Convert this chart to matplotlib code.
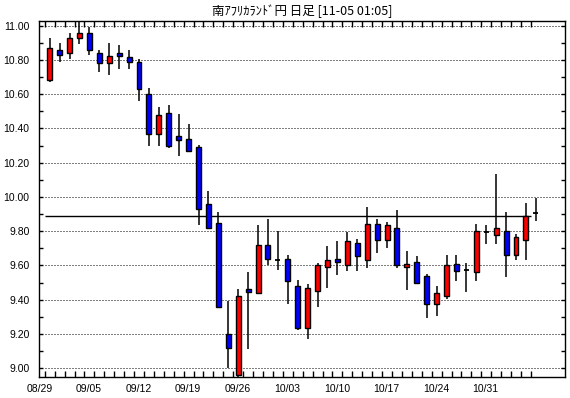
import numpy as np
import matplotlib
matplotlib.use("Agg")
import matplotlib.pyplot as plt
from matplotlib.patches import Rectangle

# daily candles, ZAR/JPY
opens = [10.68, 10.86, 10.84, 10.93, 10.96, 10.84, 10.78, 10.84, 10.815, 10.79,
         10.60, 10.37, 10.49, 10.354, 10.34, 10.29, 9.96, 9.85, 9.20, 8.96,
         9.463, 9.44, 9.72, 9.632, 9.64, 9.48, 9.235, 9.45, 9.59, 9.64,
         9.60, 9.73, 9.63, 9.84, 9.75, 9.82, 9.59, 9.62, 9.54, 9.375,
         9.42, 9.61, 9.571, 9.56, 9.796, 9.78, 9.80, 9.66, 9.75, 9.905]
highs = [10.93, 10.90, 10.955, 11.04, 10.994, 10.86, 10.90, 10.885, 10.858, 10.804,
         10.634, 10.525, 10.537, 10.485, 10.426, 10.303, 10.035, 9.91, 9.393, 9.463,
         9.564, 9.837, 9.872, 9.801, 9.663, 9.517, 9.492, 9.612, 9.714, 9.743,
         9.796, 9.753, 9.941, 9.872, 9.852, 9.926, 9.684, 9.657, 9.552, 9.478,
         9.661, 9.661, 9.612, 9.84, 9.834, 10.132, 9.911, 9.783, 9.963, 9.994]
lows = [10.673, 10.79, 10.803, 10.891, 10.829, 10.731, 10.712, 10.749, 10.749, 10.562,
        10.30, 10.30, 10.288, 10.241, 10.26, 9.837, 9.823, 9.36, 8.999, 8.95,
        9.111, 9.443, 9.604, 9.573, 9.375, 9.226, 9.173, 9.36, 9.47, 9.545,
        9.57, 9.57, 9.587, 9.67, 9.701, 9.587, 9.458, 9.49, 9.291, 9.307,
        9.406, 9.512, 9.446, 9.512, 9.728, 9.728, 9.53, 9.629, 9.629, 9.862]
closes = [10.87, 10.83, 10.93, 10.96, 10.86, 10.78, 10.82, 10.82, 10.785, 10.63,
          10.37, 10.48, 10.30, 10.33, 10.27, 9.93, 9.82, 9.36, 9.12, 9.42,
          9.447, 9.72, 9.64, 9.632, 9.51, 9.235, 9.47, 9.60, 9.63, 9.62,
          9.74, 9.655, 9.84, 9.75, 9.835, 9.60, 9.61, 9.50, 9.375, 9.44,
          9.60, 9.57, 9.571, 9.80, 9.796, 9.82, 9.66, 9.765, 9.89, 9.908]
date_labels = ["08/29", "09/05", "09/12", "09/19", "09/26",
               "10/03", "10/10", "10/17", "10/24", "10/31"]
last_price = 9.887
title = "南ｱﾌﾘｶﾗﾝﾄﾞ円 日足 [11-05 01:05]"

n = len(opens)
xs = np.arange(n)

fig = plt.figure(figsize=(5.70, 3.98), dpi=100)
ax = fig.add_axes([39.3 / 570, 20.7 / 398, 525.7 / 570, 356.6 / 398])
ax.set_xlim(-0.946, 51.94)
ax.set_ylim(8.947, 11.029)

# dotted grid
levels = np.arange(9.0, 11.01, 0.2)
ax.hlines(levels, -0.5, 51.94, colors="black", linewidth=0.72,
          linestyles=(0, (1, 2)), zorder=1)
ax.hlines(last_price, -0.5, n - 1.5, colors="black", linewidth=1.0, zorder=2)

bw = 0.5
for x, o, h, l, c in zip(xs, opens, highs, lows, closes):
    ax.vlines(x, l, h, colors="black", linewidth=1.1, zorder=3)
    if abs(c - o) < 0.006:
        ax.hlines((o + c) / 2, x - bw / 2, x + bw / 2, colors="black",
                  linewidth=1.3, zorder=4)
        continue
    col = "#ff0000" if c > o else "#0000ff"
    ax.add_patch(Rectangle((x - bw / 2, min(o, c)), bw, abs(c - o),
                           facecolor=col, edgecolor="black", linewidth=1.0,
                           zorder=4))

for s in ax.spines.values():
    s.set_linewidth(1.0)

ax.set_yticks(levels)
ax.set_yticklabels(["%.2f" % v for v in levels])
ax.set_yticks(np.arange(9.0, 11.01, 0.1), minor=True)
ax.tick_params(axis="y", which="both", direction="in", left=True, right=True,
               length=3, width=1.0, labelsize=7.5, pad=7)

ax.set_xticks(xs - 0.5, minor=True)
ax.set_xticks(np.arange(len(date_labels)) * 5 - 1.05)
ax.set_xticklabels(date_labels)
ax.tick_params(axis="x", which="minor", direction="in", top=True, bottom=True,
               length=4, width=1.0)
ax.tick_params(axis="x", which="major", length=0, labelsize=7.5, pad=5)
for lab in ax.get_xticklabels() + ax.get_yticklabels():
    lab.set_fontfamily("Liberation Sans")

fig.text(302 / 570, 1 - 11 / 398, title, ha="center", va="center",
         fontsize=9, family=["Noto Sans CJK JP", "DejaVu Sans"])

fig.savefig("out.png", dpi=100)
